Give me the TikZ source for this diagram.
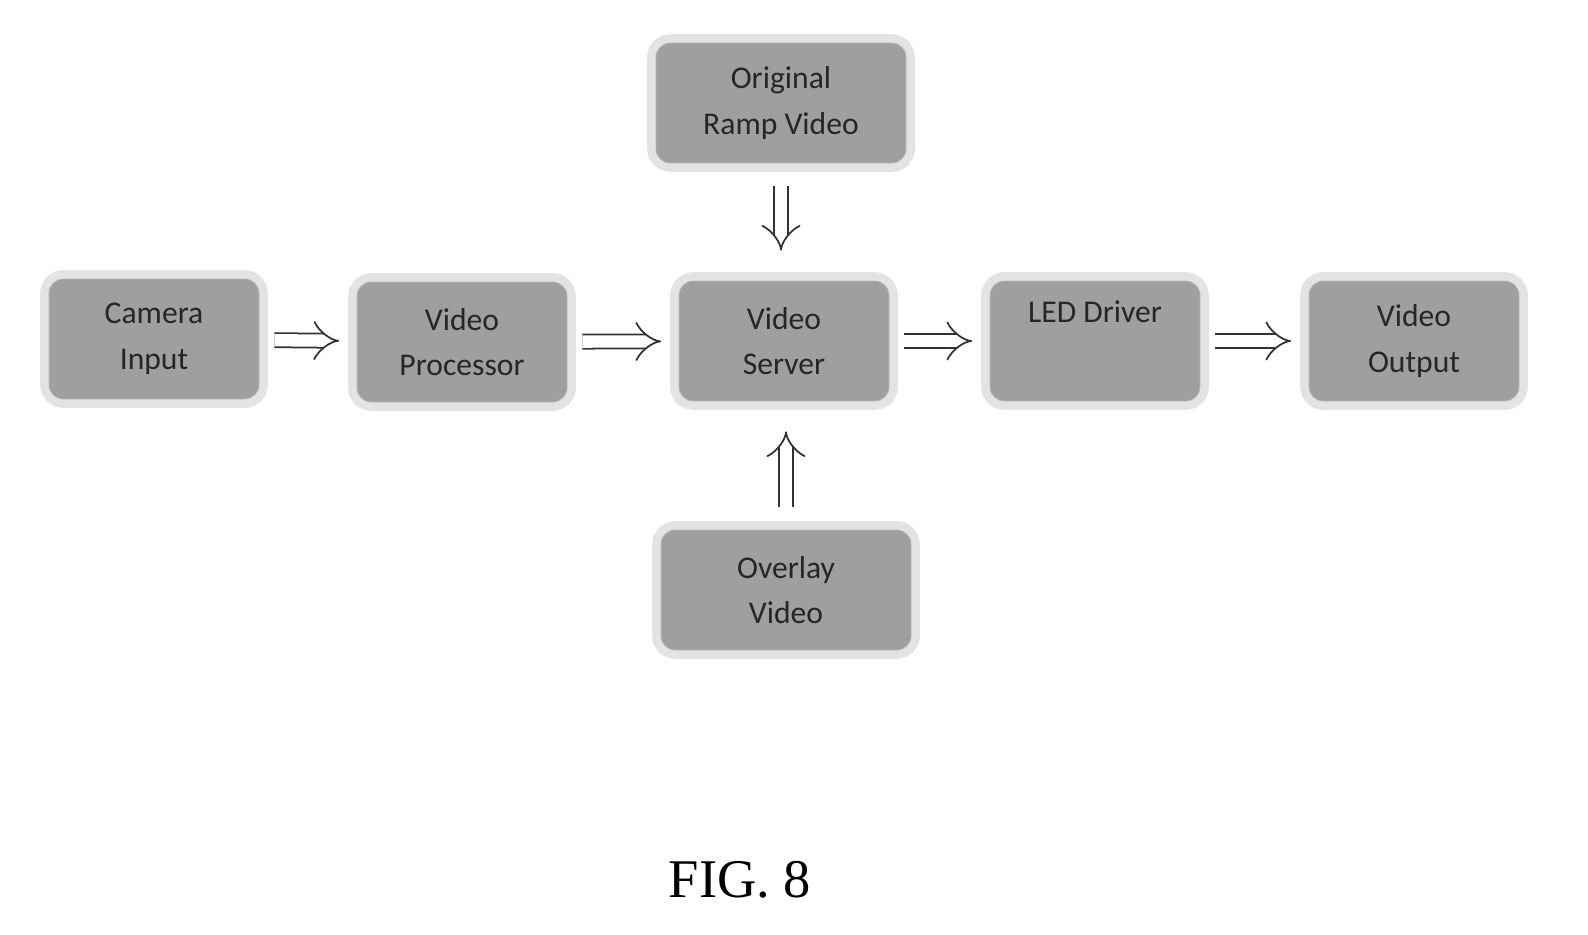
\documentclass[tikz,border=0pt]{standalone}
\usepackage{fontspec}
\setmainfont{Carlito}
\newfontfamily\figfont{Liberation Serif}
\usetikzlibrary{positioning,arrows.meta}
\tikzset{
  block/.style={ % grey box with a soft halo
    rectangle, rounded corners=8pt, fill=gray!75, draw=gray!55,
    minimum width=4.2cm, minimum height=2.4cm, align=center,
    font=\fontsize{18}{26}\selectfont, text=black!85,
    preaction={draw=gray!22, line width=10pt}
  },
  flow/.style={ % hollow block arrow
    double=white, double distance=7pt, line width=1pt, draw=black!80,
    -{Implies[length=8pt]}, shorten >=0.35cm, shorten <=0.3cm
  }
}
\begin{document}
\begin{tikzpicture}
  \useasboundingbox (0,0) rectangle (31.76,-18.68);
  \node[block] (srv) at (15.68,-6.82) {Video\\Server};
  \node[block] (cam) at (3.08,-6.78) {Camera\\Input};
  \node[block] (proc) at (9.24,-6.84) {Video\\Processor};
  \node[block] (led) at (21.9,-6.82) {LED Driver\\\strut};
  \node[block] (out) at (28.28,-6.82) {Video\\Output};
  \node[block, minimum width=5cm] (ramp) at (15.62,-2.06) {Original\\Ramp Video};
  \node[block, minimum width=5cm] (over) at (15.72,-11.8) {Overlay\\Video};
  \node (fig) at (14.8,-17.6) {\figfont\fontsize{31}{36}\selectfont FIG. 8};
  \draw[flow] (cam) -- (proc);
  \draw[flow] (proc) -- (srv);
  \draw[flow] (srv) -- (led);
  \draw[flow] (led) -- (out);
  \draw[flow, shorten >=0.6cm, shorten <=0.45cm] (ramp) -- (ramp|-srv.north);
  \draw[flow, shorten >=0.6cm, shorten <=0.45cm] (over) -- (over|-srv.south);
\end{tikzpicture}
\end{document}
